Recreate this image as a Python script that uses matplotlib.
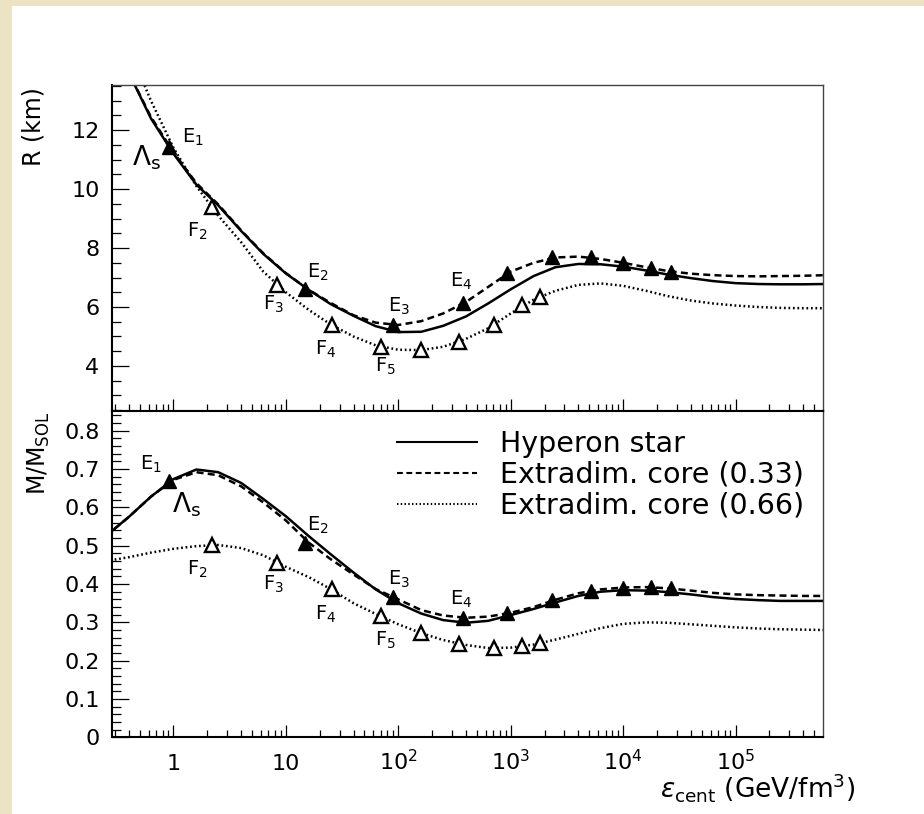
import matplotlib
matplotlib.use('Agg')
import matplotlib.pyplot as plt
from matplotlib.ticker import FixedLocator, LogLocator, NullFormatter
from matplotlib.patches import Rectangle

# ---------------- data ----------------
eps_grid = [0.25, 0.4, 0.63, 1, 1.6, 2.5, 4, 6.3, 10, 16, 25, 40, 63, 100, 160, 250,
            400, 630, 1000, 1600, 2500, 4000, 6300, 1e4, 1.6e4, 2.5e4, 4e4, 6.3e4,
            1e5, 1.6e5, 2.5e5, 4e5, 6.3e5]

R_hyperon = [15.4, 13.95, 12.4, 11.2, 10.15, 9.45, 8.58, 7.8, 7.14, 6.58, 6.1, 5.7, 5.35,
             5.15, 5.16, 5.36, 5.68, 6.12, 6.6, 7.05, 7.35, 7.46, 7.45, 7.37, 7.24, 7.1,
             6.98, 6.88, 6.81, 6.78, 6.77, 6.77, 6.78]
R_core033 = [15.4, 13.95, 12.45, 11.25, 10.2, 9.48, 8.6, 7.82, 7.15, 6.58, 6.14, 5.72, 5.47,
             5.39, 5.52, 5.78, 6.17, 6.68, 7.2, 7.5, 7.68, 7.71, 7.63, 7.5, 7.35, 7.22,
             7.13, 7.08, 7.05, 7.04, 7.05, 7.06, 7.08]
R_core066 = [16.5, 14.8, 13.0, 11.4, 10.1, 9.1, 8.2, 7.2, 6.5, 5.9, 5.41, 5.0, 4.7,
             4.55, 4.54, 4.65, 4.92, 5.28, 5.78, 6.25, 6.55, 6.75, 6.8, 6.72, 6.55, 6.37,
             6.22, 6.12, 6.05, 6.0, 5.97, 5.96, 5.96]

M_hyperon = [0.525, 0.575, 0.628, 0.674, 0.699, 0.692, 0.664, 0.622, 0.577, 0.525, 0.478,
             0.43, 0.386, 0.35, 0.323, 0.306, 0.299, 0.304, 0.319, 0.335, 0.352, 0.369,
             0.38, 0.384, 0.383, 0.379, 0.373, 0.366, 0.361, 0.358, 0.356, 0.356, 0.356]
M_core033 = [0.525, 0.575, 0.628, 0.672, 0.692, 0.684, 0.655, 0.613, 0.566, 0.508, 0.465,
             0.425, 0.387, 0.36, 0.332, 0.318, 0.312, 0.315, 0.325, 0.34, 0.359, 0.376,
             0.386, 0.391, 0.392, 0.389, 0.383, 0.377, 0.373, 0.371, 0.37, 0.369, 0.369]
M_core066 = [0.46, 0.47, 0.482, 0.492, 0.499, 0.502, 0.494, 0.475, 0.445, 0.418, 0.387,
             0.35, 0.322, 0.295, 0.272, 0.254, 0.241, 0.233, 0.234, 0.242, 0.255, 0.27,
             0.285, 0.296, 0.3, 0.299, 0.295, 0.291, 0.287, 0.284, 0.282, 0.281, 0.28]

# marked configurations
eps_E = [0.91, 14.8, 89, 380, 930, 2340, 5130, 10000, 17800, 26900]
R_E = [11.42, 6.6, 5.39, 6.13, 7.14, 7.68, 7.68, 7.5, 7.31, 7.2]
M_E = [0.669, 0.508, 0.367, 0.311, 0.324, 0.358, 0.383, 0.391, 0.392, 0.389]

eps_F = [2.19, 8.3, 25.7, 70.8, 158, 347, 708, 1260, 1820]
R_F = [9.4, 6.75, 5.39, 4.65, 4.54, 4.82, 5.39, 6.07, 6.33]
M_F = [0.502, 0.456, 0.386, 0.316, 0.272, 0.244, 0.232, 0.238, 0.245]

# point labels: (text, eps, R, M)
point_labels = [
    (r'E$_1$', 1.19, 11.56, None),
    (r'E$_1$', 0.50, None, 0.698),
    (r'$\Lambda_{\rm s}$', 0.43, 10.81, None),
    (r'$\Lambda_{\rm s}$', 0.98, None, 0.588),
    (r'F$_2$', 1.32, 8.4, 0.424),
    (r'E$_2$', 15.5, 6.98, 0.539),
    (r'F$_3$', 6.3, 5.9, 0.385),
    (r'F$_4$', 18.2, 4.37, 0.306),
    (r'F$_5$', 61.7, 3.8, 0.238),
    (r'E$_3$', 81.3, 5.83, 0.398),
    (r'E$_4$', 288, 6.68, 0.345),
]

series_names = ['Hyperon star', 'Extradim. core (0.33)', 'Extradim. core (0.66)']

xticks = [1, 10, 100, 1000, 1e4, 1e5]
xticklabels = ['1', '10', r'$10^{2}$', r'$10^{3}$', r'$10^{4}$', r'$10^{5}$']
R_ticks = [4, 6, 8, 10, 12]
M_ticks = [0, 0.1, 0.2, 0.3, 0.4, 0.5, 0.6, 0.7, 0.8]
M_ticklabels = ['0', '0.1', '0.2', '0.3', '0.4', '0.5', '0.6', '0.7', '0.8']

# ---------------- figure ----------------
W, H = 924, 814
fig = plt.figure(figsize=(W / 100, H / 100), dpi=100)
fig.patch.set_facecolor('white')
beige = '#ece2c4'
fig.patches.append(Rectangle((0, 0), 12 / W, 1, transform=fig.transFigure,
                             facecolor=beige, edgecolor='none', zorder=-5))
fig.patches.append(Rectangle((0, 1 - 6 / H), 1, 6 / H, transform=fig.transFigure,
                             facecolor=beige, edgecolor='none', zorder=-5))

left, right = 112, 822.5
top1, mid, bot = 85, 410.5, 737.3
ax1 = fig.add_axes([left / W, 1 - mid / H, (right - left) / W, (mid - top1) / H])
ax2 = fig.add_axes([left / W, 1 - bot / H, (right - left) / W, (bot - mid) / H], sharex=ax1)

lw = 1.8
styles = [dict(color='black', lw=lw, ls='-'),
          dict(color='black', lw=lw, ls=(0, (2.8, 1.7))),
          dict(color='black', lw=lw, ls=(0, (0.7, 1.1)))]

for ax, ys in ((ax1, (R_hyperon, R_core033, R_core066)),
               (ax2, (M_hyperon, M_core033, M_core066))):
    for y, st, name in zip(ys, styles, series_names):
        ax.plot(eps_grid, y, label=name, zorder=2, **st)

mk_filled = dict(marker='^', ls='none', color='black', ms=10.5, zorder=4)
mk_open = dict(marker='^', ls='none', mfc='white', mec='black', mew=1.7, ms=10.5, zorder=4)
ax1.plot(eps_E, R_E, **mk_filled)
ax1.plot(eps_F, R_F, **mk_open)
ax2.plot(eps_E, M_E, **mk_filled)
ax2.plot(eps_F, M_F, **mk_open)

lab_fs = 14
for txt, x, r, m in point_labels:
    fs = 19 if 'Lambda' in txt else lab_fs
    if r is not None:
        ax1.text(x, r, txt, fontsize=fs, ha='left', va='baseline', zorder=5)
    if m is not None:
        ax2.text(x, m, txt, fontsize=fs, ha='left', va='baseline', zorder=5)

for ax in (ax1, ax2):
    ax.set_xscale('log')
    ax.set_xlim(0.284, 5.94e5)
    ax.xaxis.set_major_locator(FixedLocator(xticks))
    ax.xaxis.set_minor_locator(LogLocator(base=10, subs=range(2, 10), numticks=40))
    ax.xaxis.set_minor_formatter(NullFormatter())
    ax.tick_params(axis='both', which='both', direction='in', top=False, right=False,
                   color='black', width=0.9)
    ax.tick_params(axis='x', which='major', length=9)
    ax.tick_params(axis='x', which='minor', length=5)
    ax.tick_params(axis='y', which='major', length=12, labelsize=16, pad=9)
    ax.tick_params(axis='y', which='minor', length=6.5)
    for s in ('left', 'bottom'):
        ax.spines[s].set_linewidth(1.5)
    for s in ('top', 'right'):
        ax.spines[s].set_linewidth(1.0)
        ax.spines[s].set_color('#444444')

ax1.set_ylim(2.49, 13.53)
ax1.yaxis.set_major_locator(FixedLocator(R_ticks))
ax1.yaxis.set_minor_locator(FixedLocator([2.5 + 0.5 * i for i in range(23)]))
ax1.tick_params(axis='x', which='both', labelbottom=False)

ax2.set_ylim(0, 0.853)
ax2.yaxis.set_major_locator(FixedLocator(M_ticks))
ax2.set_yticklabels(M_ticklabels)
ax2.yaxis.set_minor_locator(FixedLocator([0.02 * i for i in range(43)]))
ax2.tick_params(axis='x', which='major', labelsize=16, pad=23.5)
ax2.set_xticks(xticks)
ax2.set_xticklabels(xticklabels, va='baseline')
ax2.spines['top'].set_color('black')
ax2.spines['top'].set_linewidth(1.5)

# axis titles
fig.text(33 / W, 1 - 87 / H, 'R (km)', rotation=90, ha='center', va='top', fontsize=17)
fig.text(39 / W, 1 - 411 / H, r'M/M$_{\rm SOL}$', rotation=90, ha='center', va='top',
         fontsize=17)
fig.text(855 / W, 1 - 798 / H, r'$\varepsilon_{\rm cent}$ (GeV/fm$^{3}$)', ha='right',
         va='baseline', fontsize=19)

# legend
leg = ax2.legend(loc='upper left', bbox_to_anchor=(397 / W, 1 - 430 / H),
                 bbox_transform=fig.transFigure, frameon=False, fontsize=20.5,
                 handlelength=2.8, handletextpad=0.8, labelspacing=0.1,
                 borderpad=0, borderaxespad=0)
for ln in leg.get_lines():
    ln.set_linewidth(1.5)

fig.savefig('out.png', dpi=100, facecolor='white')
